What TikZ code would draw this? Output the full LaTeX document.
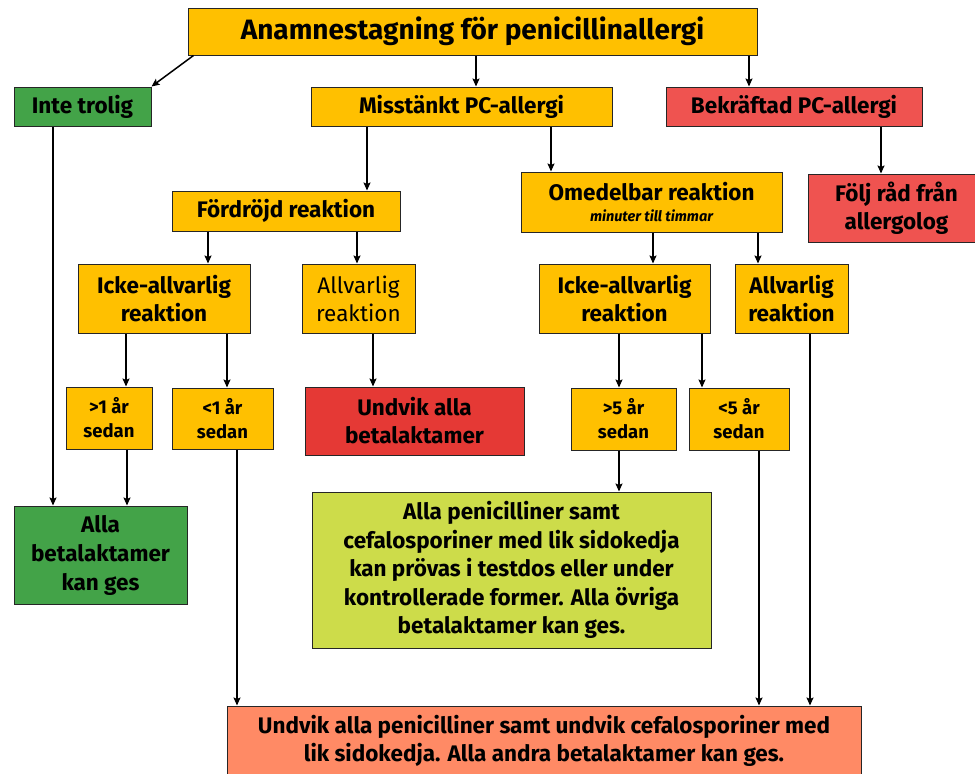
\documentclass[tikz,border=0pt]{standalone}
\usepackage{fontspec}
\setmainfont{Fira Sans}
\usetikzlibrary{arrows.meta}
\definecolor{gold}{RGB}{255,192,0}
\definecolor{okgreen}{RGB}{67,163,72}
\definecolor{lightred}{RGB}{239,83,80}
\definecolor{darkred}{RGB}{229,57,53}
\definecolor{lime}{RGB}{205,220,74}
\definecolor{salmon}{RGB}{255,138,101}
\tikzset{
  box/.style={draw=black!85, line width=1pt, inner sep=0pt, align=center, font=\fontsize{22.5}{28}\selectfont\bfseries},
  small/.style={box, font=\fontsize{18.5}{24}\selectfont\bfseries},
  arr/.style={line width=1.5pt, -{Stealth[length=8pt,width=7pt,inset=1.5pt]}}
}
\begin{document}
\begin{tikzpicture}[x=1pt,y=-1pt]
\useasboundingbox (0,0) rectangle (975,774);
\node[box, fill=gold, minimum width=569pt, minimum height=47pt, font=\fontsize{28}{32}\selectfont\bfseries] (title) at (472.5,31.5) {Anamnestagning för penicillinallergi};
\node[box, fill=okgreen, minimum width=137pt, minimum height=39pt] (inte) at (82.5,106.5) {Inte trolig};
\node[box, fill=gold, minimum width=301pt, minimum height=39pt] (misst) at (461.5,106.5) {Misstänkt PC-allergi};
\node[box, fill=lightred, minimum width=256pt, minimum height=39pt] (bekr) at (794,106.5) {Bekräftad PC-allergi};
\node[box, fill=gold, minimum width=228pt, minimum height=40pt] (ford) at (286,211) {Fördröjd reaktion};
\node[box, fill=gold, minimum width=261pt, minimum height=60pt] (omed) at (651.5,202) {Omedelbar reaktion\\[-7pt]{\fontsize{14.5}{16}\selectfont\bfseries\itshape minuter till timmar}};
\node[box, fill=lightred, minimum width=177pt, minimum height=68pt] (folj) at (896.5,208) {Följ råd från\\allergolog};
\node[box, fill=gold, minimum width=172pt, minimum height=69pt] (ickeL) at (164,298.5) {Icke-allvarlig\\reaktion};
\node[box, fill=gold, minimum width=113pt, minimum height=69pt, font=\fontsize{22.5}{28}\selectfont] (allvL) at (358.5,298.5) {Allvarlig\\reaktion};
\node[box, fill=gold, minimum width=171pt, minimum height=69pt] (ickeR) at (624.5,298.5) {Icke-allvarlig\\reaktion};
\node[box, fill=gold, minimum width=113pt, minimum height=69pt] (allvR) at (791.5,298.5) {Allvarlig\\reaktion};
\node[small, fill=gold, minimum width=86pt, minimum height=62pt] (gt1) at (109,418) {>1 år\\sedan};
\node[small, fill=gold, minimum width=101pt, minimum height=61pt] (lt1) at (222.5,418.5) {<1 år\\sedan};
\node[box, fill=darkred, minimum width=219pt, minimum height=68pt] (undvA) at (414.5,421) {Undvik alla\\betalaktamer};
\node[small, fill=gold, minimum width=105pt, minimum height=62pt] (gt5) at (623.5,419) {>5 år\\sedan};
\node[small, fill=gold, minimum width=100pt, minimum height=62pt] (lt5) at (739,419) {<5 år\\sedan};
\node[box, fill=okgreen, minimum width=173pt, minimum height=98pt, font=\fontsize{22.5}{29}\selectfont\bfseries] (allaG) at (100.5,555) {Alla\\betalaktamer\\kan ges};
\node[box, fill=lime, minimum width=399pt, minimum height=156pt, font=\fontsize{22.5}{28.5}\selectfont\bfseries] (allaP) at (511.5,570) {Alla penicilliner samt\\cefalosporiner med lik sidokedja\\kan prövas i testdos eller under\\kontrollerade former. Alla övriga\\betalaktamer kan ges.};
\node[box, fill=salmon, minimum width=634pt, minimum height=70pt] (bott) at (544,741) {Undvik alla penicilliner samt undvik cefalosporiner med\\lik sidokedja. Alla andra betalaktamer kan ges.};
% connectors
\draw[arr] ([xshift=6pt]title.south west) -- (inte.north east);
\draw[arr] (title.south -| 476,0) -- (misst.north -| 476,0);
\draw[arr] (title.south -| 749,0) -- (bekr.north -| 749,0);
\draw[arr] (inte.south -| 53,0) -- (allaG.north -| 53,0);
\draw[arr] (misst.south -| 367,0) -- (ford.north -| 367,0);
\draw[arr] (misst.south -| 551,0) -- (omed.north -| 551,0);
\draw[arr] (bekr.south -| 881,0) -- (folj.north -| 881,0);
\draw[arr] (ford.south -| 208,0) -- (ickeL.north -| 208,0);
\draw[arr] (ford.south -| 357,0) -- (allvL.north -| 357,0);
\draw[arr] (omed.south -| 653,0) -- (ickeR.north -| 653,0);
\draw[arr] (omed.south -| 758,0) -- (allvR.north -| 758,0);
\draw[arr] (ickeL.south -| 126,0) -- (gt1.north -| 126,0);
\draw[arr] (ickeL.south -| 227,0) -- (lt1.north -| 227,0);
\draw[arr] (allvL.south -| 373,0) -- (undvA.north -| 373,0);
\draw[arr] (ickeR.south -| 619,0) -- (gt5.north -| 619,0);
\draw[arr] (ickeR.south -| 702,0) -- (lt5.north -| 702,0);
\draw[arr] (allvR.south -| 810,0) -- (bott.north -| 810,0);
\draw[arr] (gt1.south -| 127,0) -- (allaG.north -| 127,0);
\draw[arr] (lt1.south -| 237,0) -- (bott.north -| 237,0);
\draw[arr] (gt5.south -| 619,0) -- (allaP.north -| 619,0);
\draw[arr] (lt5.south -| 759,0) -- (bott.north -| 759,0);
\end{tikzpicture}
\end{document}
